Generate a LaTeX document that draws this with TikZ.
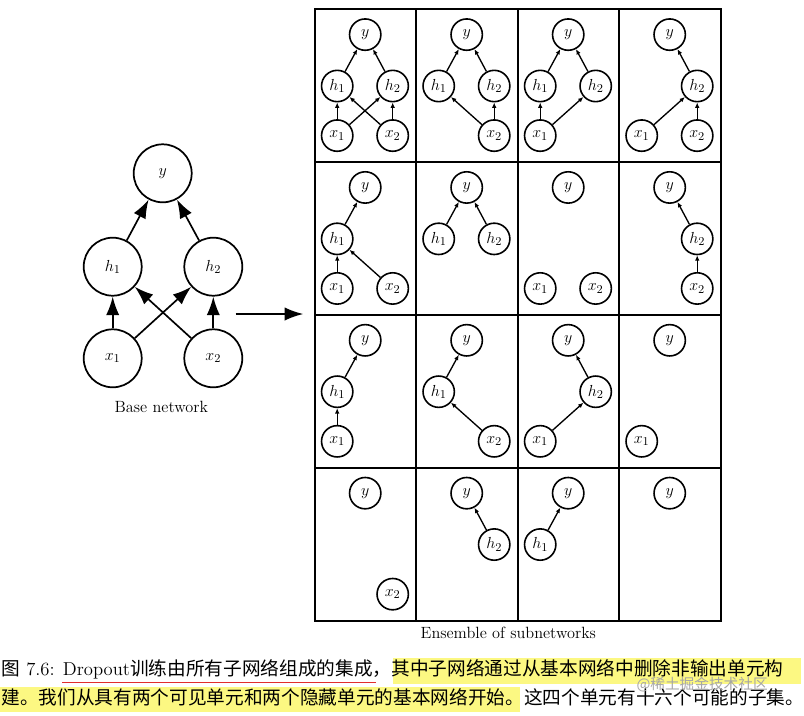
\documentclass[tikz,border=0pt]{standalone}
\usepackage{fontspec}
\newfontfamily\cjk{Noto Sans CJK SC}
\usetikzlibrary{arrows.meta}

\definecolor{markyellow}{RGB}{252,248,130}
\definecolor{markred}{RGB}{225,45,45}

\tikzset{every picture/.style={line width=0.75pt}}
\tikzset{
  bigunit/.style={draw, circle, minimum size=43.5pt, inner sep=0pt, line width=1.3pt, font=\fontsize{13}{15}\selectfont},
  unit/.style={draw, circle, minimum size=23.5pt, inner sep=0pt, line width=1.2pt, font=\fontsize{13}{15}\selectfont},
  bigarrow/.style={-{Latex[length=14pt,width=10pt]}, line width=1.25pt},
  smallarrow/.style={-{Latex[length=4pt,width=3.4pt]}, line width=1pt},
  gridline/.style={line width=1.5pt},
  captext/.style={anchor=base west, inner sep=0pt, font=\fontsize{14}{17}\selectfont},
}

\begin{document}
\begin{tikzpicture}[x=0.75pt,y=0.75pt,yscale=-1,xscale=1]
\useasboundingbox (0,0) rectangle (804,715);

%Base network
\node[bigunit] (y) at (162.7,173.3) {$y$};
\node[bigunit] (h1) at (112.7,266.7) {$h_1$};
\node[bigunit] (h2) at (213.3,266.7) {$h_2$};
\node[bigunit] (x1) at (112.7,358.3) {$x_1$};
\node[bigunit] (x2) at (213.3,358.3) {$x_2$};
\draw[bigarrow] (h1) -- (y);
\draw[bigarrow] (h2) -- (y);
\draw[bigarrow] (x1) -- (h1);
\draw[bigarrow] (x1) -- (h2);
\draw[bigarrow] (x2) -- (h1);
\draw[bigarrow] (x2) -- (h2);
% Text Node
\node[font=\fontsize{12.2}{14}\selectfont] (basetext) at (161.3,406.7) {Base network};

%Arrow to the ensemble
\coordinate (baseout) at (235.7,314);
\coordinate (ensin) at (303.3,314);
\draw[bigarrow] (baseout) -- (ensin);

%Grid of subnetworks
\draw[gridline] (314.7,9.3) rectangle (720.7,620.7);
\foreach \i in {1,2,3} {
  \draw[gridline] ({314.7+\i*101.5},9.3) -- ({314.7+\i*101.5},620.7);
  \draw[gridline] (314.7,{9.3+\i*152.85}) -- (720.7,{9.3+\i*152.85});
}

%Subnetworks: col/row/h1/h2/x1/x2 kept (1) or dropped (0)
\foreach \c/\r/\ha/\hb/\xa/\xb in {
  1/1/1/1/1/1, 2/1/1/1/0/1, 3/1/1/1/1/0, 4/1/0/1/1/1,
  1/2/1/0/1/1, 2/2/1/1/0/0, 3/2/0/0/1/1, 4/2/0/1/0/1,
  1/3/1/0/1/0, 2/3/1/0/0/1, 3/3/0/1/1/0, 4/3/0/0/1/0,
  1/4/0/0/0/1, 2/4/0/1/0/0, 3/4/1/0/0/0, 4/4/0/0/0/0} {
  \pgfmathsetmacro\cx{314.7+(\c-1)*101.5}
  \pgfmathsetmacro\cy{9.3+(\r-1)*152.85}
  \node[unit] (y-\c\r) at ({\cx+50.5},{\cy+25.3}) {$y$};
  \ifnum\ha=1
    \node[unit] (h1-\c\r) at ({\cx+22.5},{\cy+76.7}) {$h_1$};
    \draw[smallarrow] (h1-\c\r) -- (y-\c\r);
  \fi
  \ifnum\hb=1
    \node[unit] (h2-\c\r) at ({\cx+78},{\cy+76.7}) {$h_2$};
    \draw[smallarrow] (h2-\c\r) -- (y-\c\r);
  \fi
  \ifnum\xa=1
    \node[unit] (x1-\c\r) at ({\cx+22.5},{\cy+126.3}) {$x_1$};
    \ifnum\ha=1 \draw[smallarrow] (x1-\c\r) -- (h1-\c\r); \fi
    \ifnum\hb=1 \draw[smallarrow] (x1-\c\r) -- (h2-\c\r); \fi
  \fi
  \ifnum\xb=1
    \node[unit] (x2-\c\r) at ({\cx+78},{\cy+126.3}) {$x_2$};
    \ifnum\ha=1 \draw[smallarrow] (x2-\c\r) -- (h1-\c\r); \fi
    \ifnum\hb=1 \draw[smallarrow] (x2-\c\r) -- (h2-\c\r); \fi
  \fi
}
% Text Node
\node[font=\fontsize{12.2}{14}\selectfont] (enstext) at (508.3,633) {Ensemble of subnetworks};

%Caption
\fill[markyellow] (393,658) rectangle (801,684);
\fill[markyellow] (0,687) rectangle (520,712);
\draw[markred, line width=1.1pt] (62,682.5) -- (376,682.5);
\node[captext] (capone) at (1,675.5) {{\cjk 图} 7.6: Dropout{\cjk 训练由所有子网络组成的集成，其中子网络通过从基本网络中删除非输出单元构}};
\node[captext] (captwo) at (1,704.5) {\cjk 建。我们从具有两个可见单元和两个隐藏单元的基本网络开始。这四个单元有十六个可能的子集。};
\node[text=black!35, anchor=base west, inner sep=0pt, font=\fontsize{11}{13}\selectfont] (mark) at (636,689) {\cjk @稀土掘金技术社区};

\end{tikzpicture}
\end{document}
